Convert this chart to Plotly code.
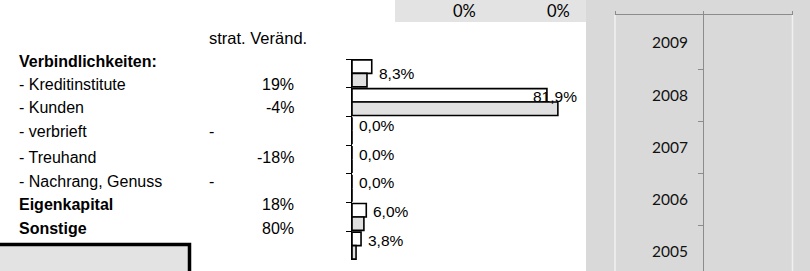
import plotly.graph_objects as go

# ---- data ----
categories = ["Kreditinstitute", "Kunden", "verbrieft", "Treuhand",
              "Nachrang, Genuss", "Eigenkapital", "Sonstige"]
share_current = [8.3, 81.9, 0.0, 0.0, 0.0, 6.0, 3.8]
share_prior = [6.3, 86.5, 0.0, 0.0, 0.0, 5.0, 1.7]
share_labels = ["8,3%", "81,9%", "0,0%", "0,0%", "0,0%", "6,0%", "3,8%"]

row_labels = ["Verbindlichkeiten:", "- Kreditinstitute", "- Kunden", "- verbrieft",
              "- Treuhand", "- Nachrang, Genuss", "Eigenkapital", "Sonstige"]
row_bold = [True, False, False, False, False, False, True, True]
strat_change = ["", "19%", "-4%", "-", "-18%", "-", "18%", "80%"]
strat_header = "strat. Veränd."
top_values = ["0%", "0%"]
years = [2005, 2006, 2007, 2008, 2009]

W, H = 810, 271
def px(x):
    return x / W
def py(y):
    return 1 - y / H

ARIAL = "Liberation Sans, Arial, sans-serif"
CAL = "Lato, Carlito, Calibri, sans-serif"

fig = go.Figure()

fig.add_trace(go.Bar(y=categories, x=share_current, orientation="h",
                     marker=dict(color="#ffffff", line=dict(color="#000000", width=1.6)),
                     xaxis="x", yaxis="y", showlegend=False, hoverinfo="skip"))
fig.add_trace(go.Bar(y=categories, x=share_prior, orientation="h",
                     marker=dict(color="#e0e0e0", line=dict(color="#000000", width=1.6)),
                     xaxis="x", yaxis="y", showlegend=False, hoverinfo="skip"))

# dummy trace to activate right-hand axes
fig.add_trace(go.Scatter(x=[0], y=[years[0]], mode="markers", marker=dict(opacity=0),
                         xaxis="x2", yaxis="y2", showlegend=False, hoverinfo="skip"))

annotations = []
xshifts = [5, -16, 5, 5, 5, 5, 5]
yshifts = [0, 6, 5, 5, 6, 5, 5]
for c, v, t, xs, ys in zip(categories, share_current, share_labels, xshifts, yshifts):
    annotations.append(dict(x=v, y=c, xref="x", yref="y", text=t, showarrow=False,
                            xanchor="left", yanchor="middle", xshift=xs, yshift=ys,
                            font=dict(family=ARIAL, size=15.5, color="#000000")))

# table text
TS = 16
row_y = [61, 84.3, 107.7, 131, 157, 181.3, 204.7, 228.7]
annotations.append(dict(x=px(207), y=py(38), xref="paper", yref="paper", text=strat_header,
                        showarrow=False, xanchor="left", yanchor="middle",
                        font=dict(family=ARIAL, size=TS + 0.5, color="#000000")))
for lab, b, val, yy in zip(row_labels, row_bold, strat_change, row_y):
    annotations.append(dict(x=px(17), y=py(yy), xref="paper", yref="paper",
                            text=f"<b>{lab}</b>" if b else lab, showarrow=False,
                            xanchor="left", yanchor="middle",
                            font=dict(family=ARIAL, size=TS, color="#000000")))
    if val:
        if val == "-":
            annotations.append(dict(x=px(207), y=py(yy), xref="paper", yref="paper", text=val,
                                    showarrow=False, xanchor="left", yanchor="middle",
                                    font=dict(family=ARIAL, size=TS, color="#000000")))
        else:
            annotations.append(dict(x=px(296), y=py(yy), xref="paper", yref="paper", text=val,
                                    showarrow=False, xanchor="right", yanchor="middle",
                                    font=dict(family=ARIAL, size=TS, color="#000000")))

for xc, t in zip([464.5, 558.5], top_values):
    annotations.append(dict(x=px(xc), y=py(11.5), xref="paper", yref="paper", text=t,
                            showarrow=False, xanchor="center", yanchor="middle",
                            font=dict(family=CAL, size=16.5, color="#000000")))

shapes = [
    dict(type="rect", xref="paper", yref="paper", x0=px(395), x1=px(586), y0=py(22), y1=py(0),
         fillcolor="#e3e3e3", line=dict(width=0), layer="below"),
    dict(type="rect", xref="paper", yref="paper", x0=px(586), x1=px(810), y0=py(271), y1=py(0),
         fillcolor="#d9d9d9", line=dict(width=0), layer="below"),
    dict(type="line", xref="paper", yref="paper", x0=px(615), x1=px(615), y0=py(271), y1=py(15),
         line=dict(color="#f0f0f0", width=1.5), layer="below"),
    dict(type="line", xref="paper", yref="paper", x0=px(792.5), x1=px(792.5), y0=py(271), y1=py(15),
         line=dict(color="#f0f0f0", width=1.5), layer="below"),
    dict(type="rect", xref="paper", yref="paper", x0=px(-5), x1=px(189.5), y0=py(280), y1=py(244.5),
         fillcolor="#e3e3e3", line=dict(color="#000000", width=3.5)),
]

fig.update_layout(
    width=W, height=H, margin=dict(l=0, r=0, t=0, b=0),
    paper_bgcolor="#ffffff", plot_bgcolor="rgba(0,0,0,0)",
    barmode="group", bargap=0.06, bargroupgap=0,
    xaxis=dict(domain=[px(352), px(590)], range=[0, 100], anchor="y",
               showline=False, showgrid=False, zeroline=False, showticklabels=False, ticks=""),
    yaxis=dict(domain=[py(260), py(59)], type="category", categoryarray=categories,
               categoryorder="array", range=[6.5, -0.5], anchor="x",
               showline=True, linecolor="#000000", linewidth=1,
               ticks="outside", tickson="boundaries", ticklen=5, tickcolor="#000000",
               showticklabels=False, showgrid=False, zeroline=False),
    xaxis2=dict(domain=[px(615), px(792.5)], range=[-1, 1], anchor="y2", side="top",
                showline=True, linecolor="#8c8c8c", linewidth=1,
                ticks="outside", tickvals=[-1, 0, 1], ticklen=3, tickcolor="#8c8c8c",
                showticklabels=False, showgrid=False, zeroline=False),
    yaxis2=dict(domain=[0, py(15)], range=[2004.636, 2009.536], anchor="free",
                position=px(703), showline=True, linecolor="#8c8c8c", linewidth=1,
                tickvals=years, ticktext=[str(y) for y in years], ticks="",
                ticklabelstandoff=12,
                tickfont=dict(family=CAL, size=15.5, color="#111111"),
                minor=dict(tickvals=[y + 0.5 for y in years[:-1]], ticks="outside",
                           ticklen=5, tickcolor="#8c8c8c", showgrid=False),
                showgrid=False, zeroline=False),
    annotations=annotations, shapes=shapes,
)

fig.write_html("out.html", config={"displayModeBar": False},
               post_script="document.body.style.margin='0';document.body.style.overflow='hidden';")
